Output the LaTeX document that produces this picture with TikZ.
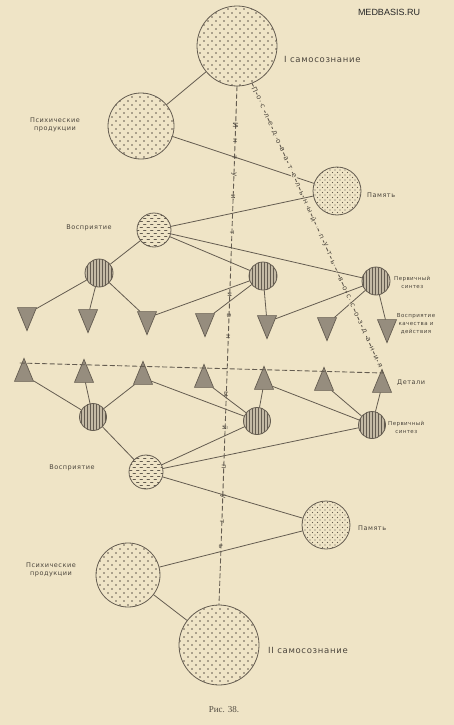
\documentclass[tikz,border=0pt]{standalone}
\usepackage{fontspec}
\setmainfont{DejaVu Sans}
\newfontfamily\captionfont{Liberation Serif}
\newfontfamily\sitefont{Liberation Sans}
\newfontfamily\labelfont[LetterSpace=8]{DejaVu Sans}
\usepackage{tikz}
\usetikzlibrary{calc}
\usetikzlibrary{patterns}
\usetikzlibrary{shapes.geometric}

\definecolor{paper}{RGB}{239,228,198}
\definecolor{ink}{RGB}{100,92,80}
\definecolor{trifill}{RGB}{150,141,126}
\definecolor{synfill}{RGB}{196,186,165}

% patterns of the circles
\pgfdeclarepatternformonly{bigdots}{\pgfqpoint{-1pt}{-1pt}}{\pgfqpoint{9pt}{9pt}}{\pgfqpoint{8pt}{8pt}}{%
	\pgfpathcircle{\pgfqpoint{0pt}{0pt}}{0.8pt}
	\pgfpathcircle{\pgfqpoint{4pt}{4pt}}{0.8pt}
	\pgfusepath{fill}}
\pgfdeclarepatternformonly{finedots}{\pgfqpoint{-1pt}{-1pt}}{\pgfqpoint{6pt}{6pt}}{\pgfqpoint{5pt}{5pt}}{%
	\pgfpathcircle{\pgfqpoint{0pt}{0pt}}{0.55pt}
	\pgfpathcircle{\pgfqpoint{2.5pt}{2.5pt}}{0.55pt}
	\pgfusepath{fill}}
\pgfdeclarepatternformonly{strokes}{\pgfqpoint{-1pt}{-1pt}}{\pgfqpoint{8pt}{7pt}}{\pgfqpoint{7pt}{6pt}}{%
	\pgfsetlinewidth{0.6pt}
	\pgfpathmoveto{\pgfqpoint{0pt}{0pt}}\pgfpathlineto{\pgfqpoint{2.5pt}{0pt}}
	\pgfpathmoveto{\pgfqpoint{3.5pt}{3pt}}\pgfpathlineto{\pgfqpoint{6pt}{3pt}}
	\pgfusepath{stroke}}

\begin{document}
\begin{tikzpicture}
			[x=1pt,y=-1pt,line cap=round,
			%Styles
			link/.style={ink,line width=0.8pt},
			guide/.style={ink,line width=0.9pt,dash pattern=on 4.5pt off 3pt},
			self/.style={circle,draw=ink,line width=0.8pt,inner sep=0pt,minimum size=#1,pattern=bigdots,pattern color=ink},
			memory/.style={circle,draw=ink,line width=0.8pt,inner sep=0pt,minimum size=48pt,pattern=finedots,pattern color=ink},
			percept/.style={circle,draw=ink,line width=0.8pt,inner sep=0pt,minimum size=34pt,pattern=strokes,pattern color=ink},
			synth/.style={circle,draw=ink,line width=0.8pt,inner sep=0pt,minimum size=#1,preaction={fill=synfill},pattern=vertical lines,pattern color=ink},
			tri/.style={isosceles triangle,isosceles triangle apex angle=45,isosceles triangle stretches,draw=ink,line width=0.7pt,fill=trifill,inner sep=0pt,minimum width=19pt,minimum height=23pt},
			tridown/.style={tri,shape border rotate=-90},
			triup/.style={tri,shape border rotate=90},
			lbl/.style={font=\labelfont\fontsize{6.5}{7.8}\selectfont,text=ink!75!black,align=center,inner sep=0pt},
			small lbl/.style={lbl,font=\labelfont\fontsize{5.5}{8}\selectfont},
			biglbl/.style={font=\labelfont\fontsize{8.5}{10}\selectfont,text=ink!75!black,inner sep=0pt},
			letter/.style={font=\fontsize{7}{7}\selectfont,text=ink!75!black,fill=paper,inner sep=0.6pt}
			]
			
			%Page
			\fill[paper] (0,0) rectangle (454,725);
			\useasboundingbox (0,0) rectangle (454,725);
			
			%The graphic
			\node[self=80pt] (sI) at (237,46) {};
			\node[self=66pt] (pPa) at (141,126) {};
			\node[memory] (mPa) at (337,191) {};
			\node[percept] (vPa) at (154,230) {};
			
			\node[synth=28pt] (sA1) at (99,273) {};
			\node[synth=28pt] (sA2) at (263,276) {};
			\node[synth=28pt] (sA3) at (376,281) {};
			
			\node[tridown] (tA1) at (27,314) {};
			\node[tridown] (tA2) at (88,316) {};
			\node[tridown] (tA3) at (147,318) {};
			\node[tridown] (tA4) at (205,320) {};
			\node[tridown] (tA5) at (267,322) {};
			\node[tridown] (tA6) at (327,324) {};
			\node[tridown] (tA7) at (387,326) {};
			
			\coordinate (dL) at (20,363);
			\coordinate (dR) at (383,373);
			
			\node[triup] (tB1) at (24,375) {};
			\node[triup] (tB2) at (84,376) {};
			\node[triup] (tB3) at (143,378) {};
			\node[triup] (tB4) at (204,381) {};
			\node[triup] (tB5) at (264,383) {};
			\node[triup] (tB6) at (324,384) {};
			\node[triup] (tB7) at (382,386) {};
			
			\node[synth=27pt] (sB1) at (93,417) {};
			\node[synth=27pt] (sB2) at (257,421) {};
			\node[synth=27pt] (sB3) at (372,425) {};
			
			\node[percept] (vPb) at (146,472) {};
			\node[memory] (mPb) at (326,525) {};
			\node[self=64pt] (pPb) at (128,575) {};
			\node[self=80pt] (sII) at (219,645) {};
			
			%Connections, upper half
			\draw[link] (sI) -- (pPa);
			\draw[link] (pPa) -- (mPa);
			\draw[link] (vPa) -- (mPa);
			\draw[link] (vPa) -- (sA1);
			\draw[link] (vPa) -- (sA2);
			\draw[link] (vPa) -- (sA3);
			\draw[link] (sA1) -- (tA1);
			\draw[link] (sA1) -- (tA2);
			\draw[link] (sA1) -- (tA3);
			\draw[link] (sA2) -- (tA3);
			\draw[link] (sA2) -- (tA4);
			\draw[link] (sA2) -- (tA5);
			\draw[link] (sA3) -- (tA5);
			\draw[link] (sA3) -- (tA6);
			\draw[link] (sA3) -- (tA7);
			
			%Connections, lower half
			\draw[link] (tB1) -- (sB1);
			\draw[link] (tB2) -- (sB1);
			\draw[link] (tB3) -- (sB1);
			\draw[link] (tB3) -- (sB2);
			\draw[link] (tB4) -- (sB2);
			\draw[link] (tB5) -- (sB2);
			\draw[link] (tB5) -- (sB3);
			\draw[link] (tB6) -- (sB3);
			\draw[link] (tB7) -- (sB3);
			\draw[link] (sB1) -- (vPb);
			\draw[link] (vPb) -- (sB2);
			\draw[link] (vPb) -- (sB3);
			\draw[link] (vPb) -- (mPb);
			\draw[link] (mPb) -- (pPb);
			\draw[link] (pPb) -- (sII);
			
			%Dashed paths
			\draw[guide] (dL) -- (dR);
			\draw[guide] (sI.south) -- (sII.north);
			\draw[guide] (sI.-68) -- (dR);
			
			\foreach \ch/\yy [count=\i] in {И/118,н/134,т/150,у/167,и/190,т/225,и/288,в/309,н/330,ы/387,й/421,п/460,у/490,т/515,ь/540}
				\node[letter,fill=none,rotate=-92,xshift=7pt] (il\i) at ($(sI.south)!{(\yy-86)/519}!(sII.north)$) {\ch};
			
			\foreach \ch [count=\i] in {П,о,с,л,е,д,о,в,а,т,е,л,ь,н,ы,й,{},п,у,т,ь,{},в,о,с,с,о,з,д,а,н,и,я}
				\node[letter,rotate=-65.6] (dl\i) at ($(sI.-68)!{(\i-0.3)/33.5}!(dR)$) {\ch};
			
			%Labels
			\node[biglbl,anchor=west] (lsI) at (284,59) {I самосознание};
			\node[lbl] (lpPa) at (55,125) {Психические\\продукции};
			\node[lbl,anchor=west] (lmPa) at (367,195) {Память};
			\node[lbl] (lvPa) at (89,228) {Восприятие};
			\node[small lbl,anchor=west] (lsA3) at (394,282) {Первичный\\синтез};
			\node[small lbl] (ltA7) at (416,324) {Восприятие\\качества и\\действия};
			\node[lbl,anchor=west] (ltB7) at (397,383) {Детали};
			\node[small lbl,anchor=west] (lsB3) at (388,427) {Первичный\\синтез};
			\node[lbl] (lvPb) at (72,468) {Восприятие};
			\node[lbl,anchor=west] (lmPb) at (358,528) {Память};
			\node[lbl] (lpPb) at (51,570) {Психические\\продукции};
			\node[biglbl,anchor=west] (lsII) at (268,650) {II самосознание};
			
			\node[font=\captionfont\fontsize{9}{10}\selectfont,text=ink!80!black] (fig) at (224,710) {Рис. 38.};
			\node[font=\sitefont\fontsize{9}{10}\selectfont,text=black!85] (site) at (389,12) {MEDBASIS.RU};
		\end{tikzpicture}
\end{document}
